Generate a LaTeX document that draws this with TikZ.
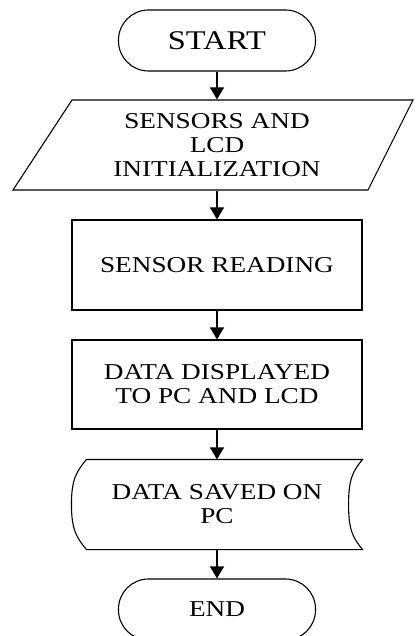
\documentclass[tikz,border=0pt]{standalone}
\usepackage{fontspec}
\setmainfont{Liberation Serif}[FakeStretch=1.2]
\usetikzlibrary{arrows.meta}

\begin{document}
\begin{tikzpicture}[x=1pt, y=-1pt, line width=1.1pt,
  txt/.style={font=\fontsize{22.7}{24}\selectfont, align=center},
  terminal/.style={draw, rounded corners=30pt, minimum width=197pt, minimum height=61pt, txt},
  process/.style={draw, minimum width=290pt, minimum height=90pt, txt},
  frame/.style={minimum width=290pt, minimum height=90pt, txt},
  flow/.style={-{Triangle[length=12pt,width=14pt]}}]
\useasboundingbox (0,0) rectangle (415,636);

% Start and end
\node[terminal, font=\fontsize{27}{29}\selectfont] (start) at (217,40.5) {START};
\node[terminal] (stop) at (217,609.5) {END};

% Input box (slanted)
\node[frame] (init) at (217,145) {SENSORS AND\\LCD\\INITIALIZATION};
\draw ([shift={(-145,-45)}]init.center) -- ([shift={(196,-45)}]init.center)
  -- ([shift={(151,45)}]init.center) -- ([shift={(-204,45)}]init.center) -- cycle;

% Process boxes
\node[process] (read) at (217,265) {SENSOR READING};
\node[process, minimum height=89pt] (show) at (217,384.5) {DATA DISPLAYED\\TO PC AND LCD};

% Stored data box
\node[frame, minimum height=89pt] (save) at (217,504.5) {DATA SAVED ON\\PC};
\draw ([xshift=15pt]save.north west) -- (save.north east)
  .. controls +(-10,12) and +(0,-25) .. ([xshift=-14pt]save.east)
  .. controls +(0,25) and +(-10,-12) .. (save.south east)
  -- ([xshift=15pt]save.south west)
  .. controls +(-10,-12) and +(0,25) .. (save.west)
  .. controls +(0,-25) and +(-10,12) .. cycle;

% Arrows
\draw[flow] (start) -- (init);
\draw[flow] (init) -- (read);
\draw[flow] (read) -- (show);
\draw[flow] (show) -- (save);
\draw[flow] (save) -- (stop);
\end{tikzpicture}
\end{document}
